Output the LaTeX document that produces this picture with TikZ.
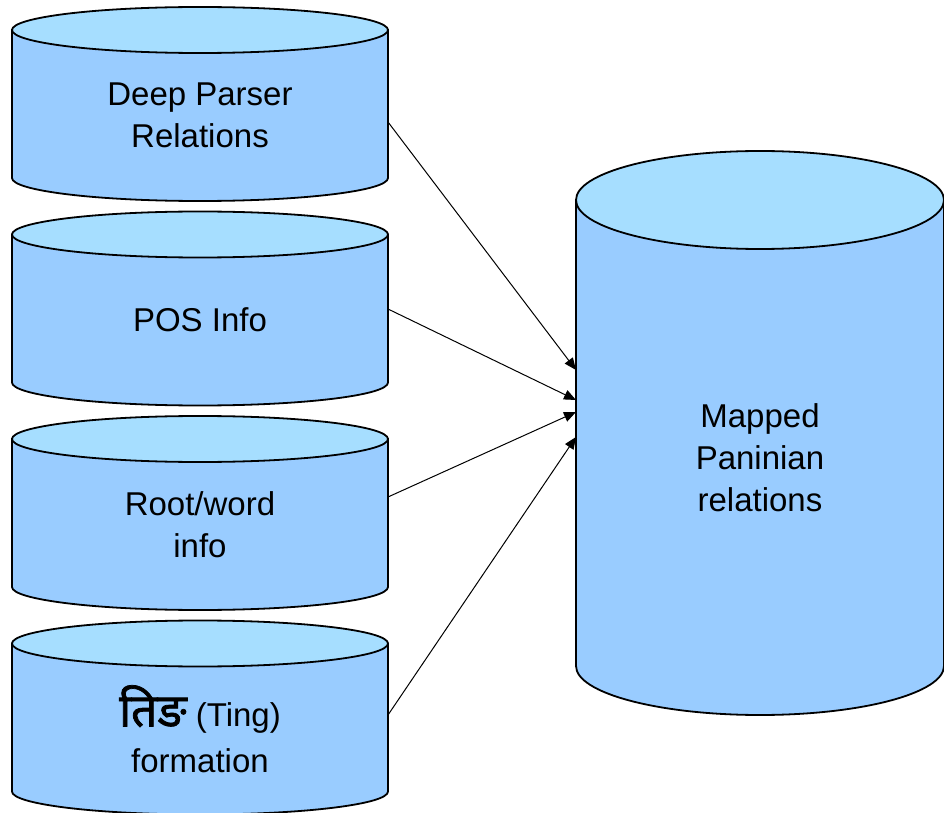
\documentclass[tikz,border=0pt]{standalone}
\usepackage{fontspec}
\setmainfont{Liberation Sans}
\newfontfamily\devfont[Script=Devanagari,FakeBold=1.6]{Noto Sans}
\usetikzlibrary{arrows.meta,positioning,calc,backgrounds}
\definecolor{bodyblue}{RGB}{153,204,255}
\definecolor{topblue}{RGB}{166,222,255}
\tikzset{
  can/.style={minimum width=#1,minimum height=62.5pt,inner sep=0pt,outer sep=0pt,align=center,font=\fontsize{16.5}{21}\selectfont},
  can/.default={188pt},
  side/.style={draw,line width=0.9pt,fill=bodyblue},
  lid/.style={draw,line width=0.9pt,fill=topblue},
  arr/.style={-{Triangle[length=6pt,width=5pt]},line width=0.5pt},
}

\begin{document}
\begin{tikzpicture}
 \useasboundingbox (0,0) rectangle (472pt,-406.5pt);
 \node[can] (dpr) at (100pt,-57.75pt) {Deep Parser\\Relations};
 \node[can,below=39.75pt of dpr] (pos) {POS Info};
 \node[can,below=39.75pt of pos] (root) {Root/word\\info};
 \node[can,below=39.75pt of root] (ting) {{\devfont\fontsize{23}{23}\selectfont तिङ} (Ting)\\[2pt]formation};
 \node[can=184pt,minimum height=208.5pt] (map) at (380pt,-228.75pt) {Mapped\\Paninian\\relations};
 % cans drawn behind the labels
 \begin{scope}[on background layer]
 \foreach \n/\rx/\ry in {dpr/94pt/11.5pt,pos/94pt/11.5pt,root/94pt/11.5pt,ting/94pt/11.5pt,map/92pt/24.5pt}{
  \draw[side] ($(\n.north west)+(0,\ry)$) -- (\n.south west) arc[start angle=180,end angle=360,x radius=\rx,y radius=\ry] -- ($(\n.north east)+(0,\ry)$) -- cycle;
  \draw[lid] ($(\n.north)+(0,\ry)$) ellipse[x radius=\rx,y radius=\ry];
 }
 \end{scope}
 \draw[arr] ([yshift=-3.25pt]dpr.east) -- ([yshift=43.75pt]map.west);
 \draw[arr] ([yshift=5.5pt]pos.east) -- ([yshift=28.75pt]map.west);
 \draw[arr] ([yshift=13.75pt]root.east) -- ([yshift=22.75pt]map.west);
 \draw[arr] ([yshift=7pt]ting.east) -- ([yshift=10.25pt]map.west);
\end{tikzpicture}
\end{document}
